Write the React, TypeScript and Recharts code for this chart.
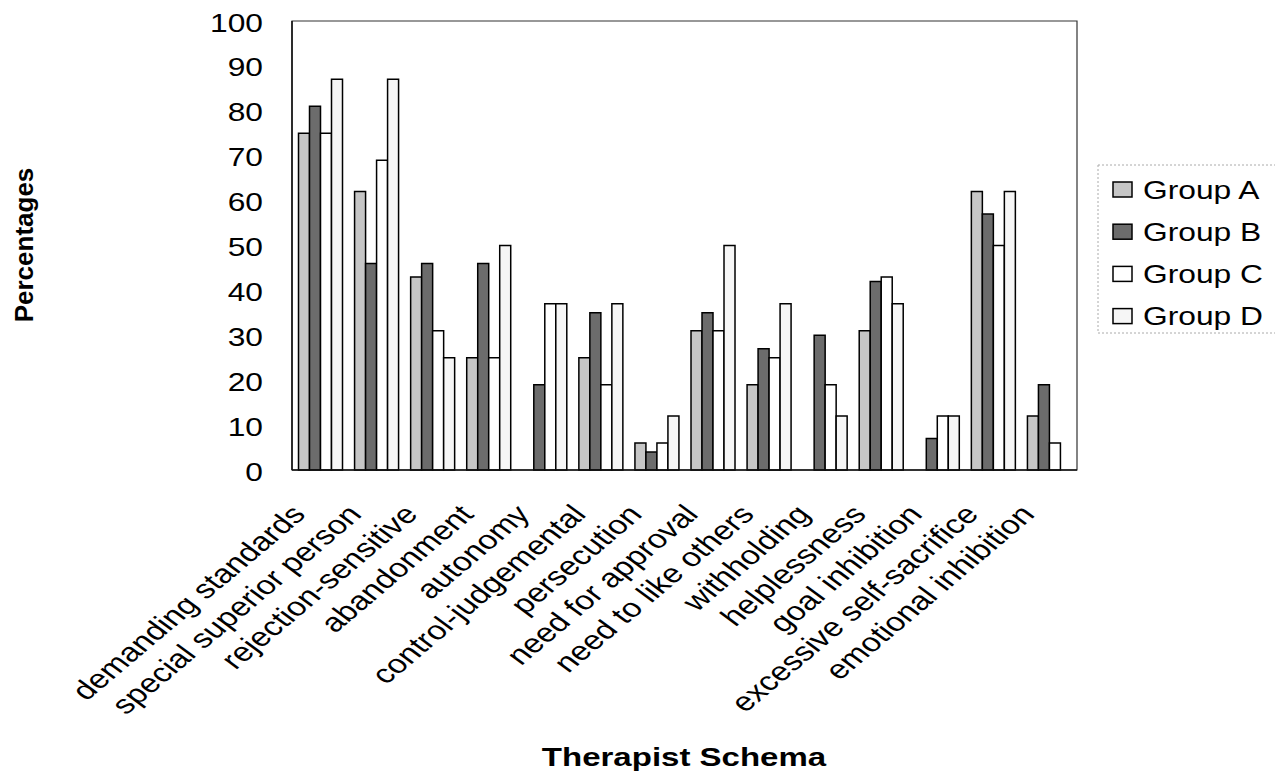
import React from 'react';
import { BarChart, Bar, XAxis, YAxis, Legend, ReferenceArea } from 'recharts';

const categories = [
  'demanding standards',
  'special superior person',
  'rejection-sensitive',
  'abandonment',
  'autonomy',
  'control-judgemental',
  'persecution',
  'need for approval',
  'need to like others',
  'withholding',
  'helplessness',
  'goal inhibition',
  'excessive self-sacrifice',
  'emotional inhibition',
];
const groupA = [75, 62, 43, 25, 0, 25, 6, 31, 19, 0, 31, 0, 62, 12];
const groupB = [81, 46, 46, 46, 19, 35, 4, 35, 27, 30, 42, 7, 57, 19];
const groupC = [75, 69, 31, 25, 37, 19, 6, 31, 25, 19, 43, 12, 50, 6];
const groupD = [87, 87, 25, 50, 37, 37, 12, 50, 37, 12, 37, 12, 62, 0];
const yTicks = [0, 10, 20, 30, 40, 50, 60, 70, 80, 90, 100];

const seriesNames = ['Group A', 'Group B', 'Group C', 'Group D'];
const seriesKeys = ['a', 'b', 'c', 'd'];
const seriesFills = ['#c6c6c6', '#6c6c6c', '#ffffff', '#f6f6f6'];

const data = categories.map((name, i) => ({
  name,
  a: groupA[i],
  b: groupB[i],
  c: groupC[i],
  d: groupD[i],
}));

const FONT = '"Liberation Sans", Arial, sans-serif';
const SX = 1.27;

const YTick = (props: any) => {
  const { x, y, payload } = props;
  return (
    <g transform={`translate(${x},${y}) scale(${SX},1)`}>
      <text x={0} y={0} dy="0.42em" textAnchor="end" fontFamily={FONT} fontSize={25} fill="#000">
        {payload.value}
      </text>
    </g>
  );
};

const XTick = (props: any) => {
  const { x, y, payload } = props;
  return (
    <g transform={`translate(${x - 13},${y + 45.5}) scale(${SX},1) rotate(-47)`}>
      <text x={0} y={0} textAnchor="end" fontFamily={FONT} fontSize={26.5} fill="#000">
        {payload.value}
      </text>
    </g>
  );
};

const renderLegend = () => (
  <svg width={185} height={175} style={{ display: 'block' }}>
    <line x1={8} y1={2} x2={185} y2={2} stroke="#aaa" strokeDasharray="2 2" />
    <line x1={8} y1={2} x2={8} y2={170} stroke="#aaa" strokeDasharray="2 2" />
    <line x1={8} y1={170} x2={185} y2={170} stroke="#aaa" strokeDasharray="2 2" />
    {seriesNames.map((n, i) => {
      const cy = 26.5 + i * 42.2;
      return (
        <g key={n}>
          <rect x={23} y={cy - 7.5} width={19} height={15} fill={seriesFills[i]} stroke="#000" strokeWidth={1.5} />
          <g transform={`translate(53,${cy}) scale(${SX},1)`}>
            <text x={0} y={0} dy="0.36em" fontFamily={FONT} fontSize={25} fill="#000">
              {n}
            </text>
          </g>
        </g>
      );
    })}
  </svg>
);

const YLabel = () => (
  <g transform="translate(33,245) rotate(-90)">
    <text x={0} y={0} textAnchor="middle" fontFamily={FONT} fontSize={26} fontWeight="bold" fill="#000">
      Percentages
    </text>
  </g>
);

const XLabel = () => (
  <g transform={`translate(684,766) scale(${SX},1)`}>
    <text x={0} y={0} textAnchor="middle" fontFamily={FONT} fontSize={26} fontWeight="bold" fill="#000">
      Therapist Schema
    </text>
  </g>
);

export default function App() {
  return (
    <div style={{ position: 'absolute', left: 0, top: 0, width: 1275, height: 771, background: '#fff' }}>
      <BarChart
        width={1275}
        height={771}
        data={data}
        margin={{ top: 21, right: 198, left: 0, bottom: 0 }}
        barCategoryGap="11.6%"
        barGap={0}
      >
        <XAxis
          dataKey="name"
          height={301}
          interval={0}
          tickSize={0}
          tickMargin={0}
          tickLine={false}
          axisLine={{ stroke: '#111', strokeWidth: 1.5 }}
          tick={<XTick />}
          label={<XLabel />}
        />
        <YAxis
          width={292}
          domain={[0, 100]}
          ticks={yTicks}
          interval={0}
          tickSize={0}
          tickMargin={29}
          tickLine={false}
          axisLine={{ stroke: '#111', strokeWidth: 1.5 }}
          tick={<YTick />}
          label={<YLabel />}
        />
        <ReferenceArea
          y1={0}
          y2={100}
          fill="none"
          fillOpacity={0}
          stroke="#333"
          strokeWidth={1.2}
          ifOverflow="visible"
        />
        <Legend
          layout="horizontal"
          verticalAlign="middle"
          align="center"
          content={renderLegend}
          wrapperStyle={{ position: 'absolute', left: 1090, top: 163, width: 185, height: 175 }}
        />
        {seriesKeys.map((k, i) => (
          <Bar
            key={k}
            dataKey={k}
            name={seriesNames[i]}
            fill={seriesFills[i]}
            stroke="#000"
            strokeWidth={1.5}
            isAnimationActive={false}
          />
        ))}
      </BarChart>
    </div>
  );
}
